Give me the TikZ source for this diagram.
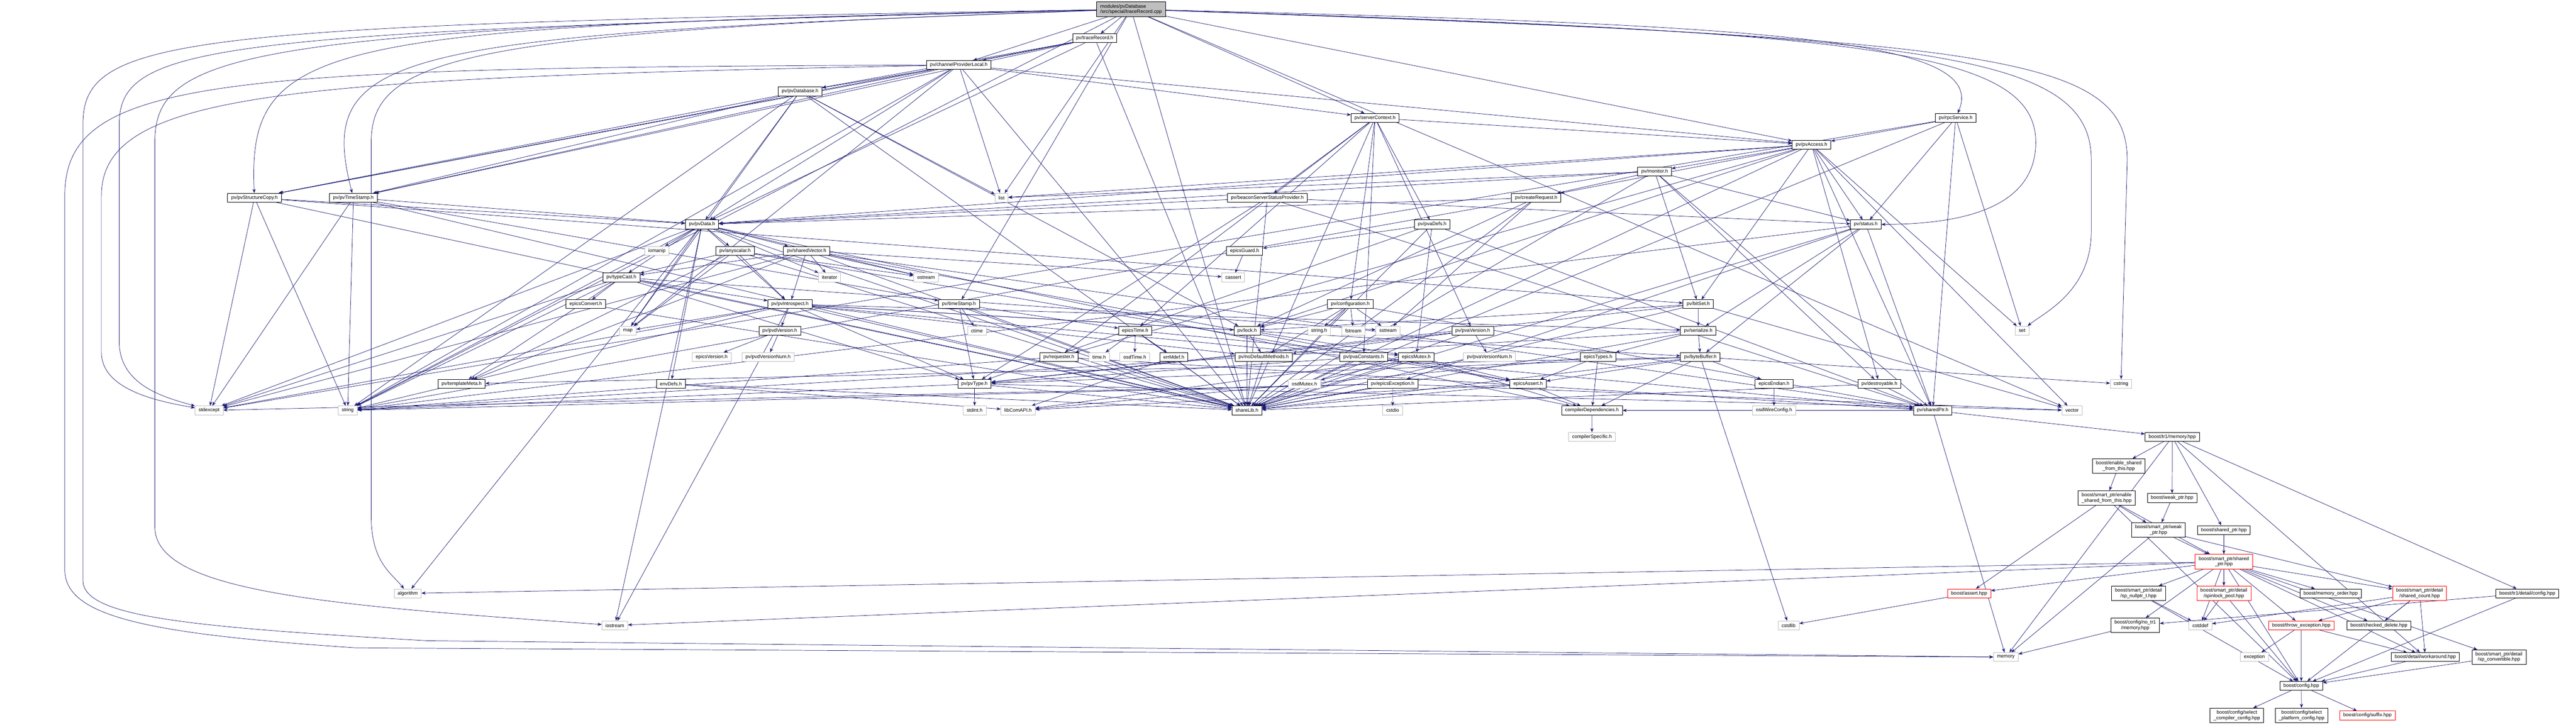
\documentclass[tikz,border=0pt]{standalone}
\usepackage{fontspec}
\setmainfont{Liberation Sans}
\usepackage{tikz}
\usetikzlibrary{positioning,arrows.meta,backgrounds}
\definecolor{edgeblue}{HTML}{191970}
\definecolor{extgray}{HTML}{BFBFBF}
\definecolor{rootgray}{HTML}{BFBFBF}

\begin{document}
\begin{tikzpicture}[on grid=true,
    hdr/.style = {draw, rectangle, fill=white, align=center, inner xsep=0.1cm, inner ysep=0pt,
                  minimum height=0.25cm, line width=0.35pt, font=\fontsize{3.9}{4.3}\selectfont},
    syshdr/.style = {hdr, draw=extgray},
    redhdr/.style = {hdr, draw=red},
    tall/.style = {minimum height=0.41cm},
    srcfile/.style = {hdr, fill=rootgray, align=left, minimum height=0.41cm},
    link/.style = {-{Stealth[length=3.3pt,width=2.5pt]}, draw=edgeblue, line width=0.3pt}]

      \useasboundingbox (0,0) rectangle (72.38,-20.36);

      \node[srcfile] (root) at (31.78,-0.26) {modules/pvDatabase\\/src/special/traceRecord.cpp};
      \node[hdr] (trrec) at (30.76,-1.075) {pv/traceRecord.h};
      \node[hdr] (cpl) at (26.94,-1.825) {pv/channelProviderLocal.h};
      \node[hdr] (pvdb) at (22.48,-2.57) {pv/pvDatabase.h};

      \node[hdr] (srvctx) at (38.635,-3.315) {pv/serverContext.h};
      \node[hdr] (rpcsrv) [right=16.315cm of srvctx] {pv/rpcService.h};
      \node[hdr] (pvacc) at (50.90,-4.065) {pv/pvAccess.h};
      \node[hdr] (monitor) at (46.49,-4.815) {pv/monitor.h};

      \node[hdr] (scopy) at (7.15,-5.555) {pv/pvStructureCopy.h};
      \node[hdr] (pvts) [right=2.78cm of scopy] {pv/pvTimeStamp.h};
      \node[syshdr] (list) [right=18.21cm of pvts] {list};
      \node[hdr] (beacon) [right=7.47cm of list] {pv/beaconServerStatusProvider.h};
      \node[hdr] (creq) [right=7.555cm of beacon] {pv/createRequest.h};

      \node[hdr] (pvdata) at (19.725,-6.305) {pv/pvData.h};
      \node[hdr] (pvadefs) [right=20.515cm of pvdata] {pv/pvaDefs.h};
      \node[hdr] (status) [right=12.185cm of pvadefs] {pv/status.h};

      \node[syshdr] (iomanip) at (18.46,-7.045) {iomanip};
      \node[hdr] (anyscalar) [right=2.195cm of iomanip] {pv/anyscalar.h};
      \node[hdr] (shvec) [right=2.01cm of anyscalar] {pv/sharedVector.h};
      \node[hdr] (eguard) [right=12.305cm of shvec] {epicsGuard.h};

      \node[hdr] (typecast) at (17.46,-7.795) {pv/typeCast.h};
      \node[syshdr] (iterator) [right=5.85cm of typecast] {iterator};
      \node[syshdr] (ostream) [right=2.71cm of iterator] {ostream};
      \node[syshdr] (cassert) [right=8.63cm of ostream] {cassert};

      \node[hdr] (econv) at (16.46,-8.545) {epicsConvert.h};
      \node[hdr] (intro) [right=5.735cm of econv] {pv/pvIntrospect.h};
      \node[hdr] (tstamp) [right=4.75cm of intro] {pv/timeStamp.h};
      \node[hdr] (config) [right=10.995cm of tstamp] {pv/configuration.h};
      \node[hdr] (bitset) [right=9.775cm of config] {pv/bitSet.h};

      \node[syshdr] (map) at (17.64,-9.29) {map};
      \node[hdr] (pvdver) [right=4.27cm of map] {pv/pvdVersion.h};
      \node[syshdr] (ctime) [right=5.54cm of pvdver] {ctime};
      \node[hdr] (etime) [right=4.445cm of ctime] {epicsTime.h};
      \node[hdr] (lock) [right=3.145cm of etime] {pv/lock.h};
      \node[syshdr] (stringh) [right=2.025cm of lock] {string.h};
      \node[syshdr] (fstream) [right=0.96cm of stringh] {fstream};
      \node[syshdr] (sstream) [right=0.975cm of fstream] {sstream};
      \node[hdr] (pvaver) [right=2.38cm of sstream] {pv/pvaVersion.h};
      \node[hdr] (serialize) [right=6.335cm of pvaver] {pv/serialize.h};
      \node[syshdr] (set) [right=9.10cm of serialize] {set};

      \node[syshdr] (eversion) at (19.995,-10.03) {epicsVersion.h};
      \node[syshdr] (pvdvernum) [right=1.585cm of eversion] {pv/pvdVersionNum.h};
      \node[hdr] (requester) [right=8.17cm of pvdvernum] {pv/requester.h};
      \node[syshdr] (timeh) [right=1.135cm of requester] {time.h};
      \node[syshdr] (osdtime) [right=1.00cm of timeh] {osdTime.h};
      \node[hdr] (errmdef) [right=1.095cm of osdtime] {errMdef.h};
      \node[hdr] (nodef) [right=2.525cm of errmdef] {pv/noDefaultMethods.h};
      \node[hdr] (pvaconst) [right=2.81cm of nodef] {pv/pvaConstants.h};
      \node[hdr] (emutex) [right=1.48cm of pvaconst] {epicsMutex.h};
      \node[syshdr] (pvavernum) [right=2.055cm of emutex] {pv/pvaVersionNum.h};
      \node[hdr] (etypes) [right=3.05cm of pvavernum] {epicsTypes.h};
      \node[hdr] (bytebuf) [right=2.875cm of etypes] {pv/byteBuffer.h};

      \node[hdr] (tmeta) at (12.97,-10.785) {pv/templateMeta.h};
      \node[hdr] (envdefs) [right=5.88cm of tmeta] {envDefs.h};
      \node[hdr] (pvtype) [right=8.53cm of envdefs] {pv/pvType.h};
      \node[syshdr] (osdmutex) [right=9.27cm of pvtype] {osdMutex.h};
      \node[hdr] (eexcept) [right=2.48cm of osdmutex] {pv/epicsException.h};
      \node[hdr] (eassert) [right=3.805cm of eexcept] {epicsAssert.h};
      \node[hdr] (eendian) [right=6.91cm of eassert] {epicsEndian.h};
      \node[hdr] (destroy) [right=2.96cm of eendian] {pv/destroyable.h};
      \node[syshdr] (cstring) [right=6.79cm of destroy] {cstring};

      \node[syshdr] (stdexcept) at (5.875,-11.53) {stdexcept};
      \node[syshdr] (string) [right=3.895cm of stdexcept] {string};
      \node[syshdr] (stdint) [right=17.615cm of string] {stdint.h};
      \node[syshdr] (libcom) [right=1.22cm of stdint] {libComAPI.h};
      \node[hdr] (sharelib) [right=6.43cm of libcom] {shareLib.h};
      \node[syshdr] (cstdio) [right=4.095cm of sharelib] {cstdio};
      \node[hdr] (compdep) [right=5.60cm of cstdio] {compilerDependencies.h};
      \node[syshdr] (osdwire) [right=5.115cm of compdep] {osdWireConfig.h};
      \node[hdr] (sharedptr) [right=4.46cm of osdwire] {pv/sharedPtr.h};
      \node[syshdr] (vector) [right=3.915cm of sharedptr] {vector};

      \node[syshdr] (compspec) at (44.73,-12.275) {compilerSpecific.h};
      \node[hdr] (tr1mem) [right=16.305cm of compspec] {boost/tr1/memory.hpp};

      \node[hdr,tall] (esft) at (59.53,-13.095) {boost/enable\_shared\\\_from\_this.hpp};
      \node[hdr,tall] (spesft) at (59.19,-13.99) {boost/smart\_ptr/enable\\\_shared\_from\_this.hpp};
      \node[hdr] (weakptr) [right=1.84cm of spesft] {boost/weak\_ptr.hpp};
      \node[hdr,tall] (spweak) at (60.645,-14.89) {boost/smart\_ptr/weak\\\_ptr.hpp};
      \node[hdr] (sharedptrhpp) [right=1.84cm of spweak] {boost/shared\_ptr.hpp};
      \node[redhdr,tall] (spshared) at (62.485,-15.78) {boost/smart\_ptr/shared\\\_ptr.hpp};

      \node[syshdr] (algorithm) at (11.455,-16.67) {algorithm};
      \node[redhdr] (bassert) [right=43.875cm of algorithm] {boost/assert.hpp};
      \node[hdr,tall] (nullptr) [right=4.755cm of bassert] {boost/smart\_ptr/detail\\/sp\_nullptr\_t.hpp};
      \node[redhdr,tall] (spinlock) [right=2.40cm of nullptr] {boost/smart\_ptr/detail\\/spinlock\_pool.hpp};
      \node[hdr] (memorder) [right=3.00cm of spinlock] {boost/memory\_order.hpp};
      \node[redhdr,tall] (sharedcount) [right=2.50cm of memorder] {boost/smart\_ptr/detail\\/shared\_count.hpp};
      \node[hdr] (tr1config) [right=3.025cm of sharedcount] {boost/tr1/detail/config.hpp};

      \node[syshdr] (iostream) at (17.275,-17.57) {iostream};
      \node[syshdr] (cstdlib) [right=32.98cm of iostream] {cstdlib};
      \node[hdr,tall] (notr1) [right=9.74cm of cstdlib] {boost/config/no\_tr1\\/memory.hpp};
      \node[syshdr] (cstddef) [right=1.83cm of notr1] {cstddef};
      \node[redhdr] (throwexc) [right=2.835cm of cstddef] {boost/throw\_exception.hpp};
      \node[hdr] (checkdel) [right=2.18cm of throwexc] {boost/checked\_delete.hpp};

      \node[syshdr] (memory) at (56.36,-18.46) {memory};
      \node[syshdr] (exception) [right=6.985cm of memory] {exception};
      \node[hdr] (workaround) [right=4.80cm of exception] {boost/detail/workaround.hpp};
      \node[hdr,tall] (spconv) [right=2.07cm of workaround] {boost/smart\_ptr/detail\\/sp\_convertible.hpp};

      \node[hdr] (bconfig) at (64.66,-19.27) {boost/config.hpp};
      \node[hdr,tall] (selcomp) at (62.85,-20.10) {boost/config/select\\\_compiler\_config.hpp};
      \node[hdr,tall] (selplat) [right=1.82cm of selcomp] {boost/config/select\\\_platform\_config.hpp};
      \node[redhdr] (suffix) [right=1.85cm of selplat] {boost/config/suffix.hpp};

      \begin{scope}[on background layer]
      % long arcs of the top-level file, round the outside
      \draw[link] (root) .. controls (9,-0.75) and (6.95,-1.1) .. (scopy);
      \draw[link] (root) .. controls (11,-1.0) and (8.85,-1.4) .. (pvts);
      \draw[link] (root) .. controls (6,-0.9) and (3.35,-1.2) .. (3.35,-3.5) -- (3.35,-9.6)
                  .. controls (3.35,-10.9) and (4.8,-11.2) .. (stdexcept);
      \draw[link] (root) .. controls (5,-0.7) and (2.33,-1.0) .. (2.33,-3.5) -- (2.33,-16.3)
                  .. controls (2.33,-17.3) and (5,-17.6) .. (12,-18.0) -- (memory);
      \draw[link] (root) .. controls (7,-0.8) and (4.35,-1.4) .. (4.35,-4) -- (4.35,-14.8)
                  .. controls (4.35,-16.6) and (9,-17.0) .. (iostream);
      \draw[link] (root) .. controls (13,-0.9) and (10.43,-1.6) .. (10.43,-4) -- (10.43,-14.5)
                  .. controls (10.43,-15.8) and (11.0,-16.1) .. (algorithm);
      \draw[link] (root) .. controls (50,-0.7) and (55.9,-1.1) .. (rpcsrv);
      \draw[link] (root) .. controls (52,-0.9) and (57.2,-1.3) .. (57.2,-4.0)
                  .. controls (57.2,-5.9) and (55,-6.3) .. (status);
      \draw[link] (root) .. controls (54,-1.0) and (58.76,-1.4) .. (58.76,-4.5) -- (58.76,-6.5)
                  .. controls (58.76,-8.2) and (57.4,-8.8) .. (set);
      \draw[link] (root) .. controls (56,-1.1) and (59.77,-1.5) .. (59.77,-4.5) -- (cstring);
      \draw[link] (cpl) .. controls (8,-2.2) and (2.85,-2.6) .. (2.85,-5.5) -- (2.85,-9.9)
                  .. controls (2.85,-11) and (4.6,-11.3) .. (stdexcept);
      \draw[link] (cpl) .. controls (6,-1.9) and (1.82,-2.2) .. (1.82,-5.5) -- (1.82,-16.0)
                  .. controls (1.82,-17.3) and (4,-17.8) .. (10,-18.2) -- (memory);

      \draw[link] (root) -- (trrec);
      \draw[link] (root) -- (cpl);
      \draw[link] (root) -- (srvctx);
      \draw[link] (root) -- (pvacc);
      \draw[link] (root) -- (list);
      \draw[link] (root) -- (tstamp);
      \draw[link] (root) -- (string);
      \draw[link] (root) -- (sharelib);
      \draw[link] (root) -- (vector);

      \draw[link] (trrec) -- (cpl);
      \draw[link] (trrec) -- (pvdb);
      \draw[link] (trrec) -- (scopy);
      \draw[link] (trrec) -- (pvts);
      \draw[link] (trrec) -- (pvdata);
      \draw[link] (trrec) -- (sharelib);

      \draw[link] (cpl) -- (pvdb);
      \draw[link] (cpl) -- (srvctx);
      \draw[link] (cpl) -- (pvacc);
      \draw[link] (cpl) -- (scopy);
      \draw[link] (cpl) -- (pvts);
      \draw[link] (cpl) -- (list);
      \draw[link] (cpl) -- (pvdata);
      \draw[link] (cpl) -- (map);
      \draw[link] (cpl) -- (string);
      \draw[link] (cpl) -- (sharelib);

      \draw[link] (pvdb) -- (pvdata);
      \draw[link] (pvdb) -- (list);
      \draw[link] (pvdb) -- (map);
      \draw[link] (pvdb) -- (scopy);
      \draw[link] (pvdb) -- (pvts);
      \draw[link] (pvdb) -- (lock);
      \draw[link] (pvdb) -- (string);
      \draw[link] (pvdb) -- (sharelib);

      \draw[link] (srvctx) -- (pvacc);
      \draw[link] (srvctx) -- (beacon);
      \draw[link] (srvctx) -- (pvadefs);
      \draw[link] (srvctx) -- (config);
      \draw[link] (srvctx) -- (pvaver);
      \draw[link] (srvctx) -- (pvaconst);
      \draw[link] (srvctx) -- (etime);
      \draw[link] (srvctx) -- (requester);
      \draw[link] (srvctx) -- (sharelib);

      \draw[link] (rpcsrv) -- (pvacc);
      \draw[link] (rpcsrv) -- (status);
      \draw[link] (rpcsrv) -- (set);
      \draw[link] (rpcsrv) -- (sharedptr);
      \draw[link] (rpcsrv) -- (sharelib);
      \draw[link] (rpcsrv) -- (stdexcept);

      \draw[link] (pvacc) -- (monitor);
      \draw[link] (pvacc) -- (creq);
      \draw[link] (pvacc) -- (status);
      \draw[link] (pvacc) -- (bitset);
      \draw[link] (pvacc) -- (pvdata);
      \draw[link] (pvacc) -- (destroy);
      \draw[link] (pvacc) -- (sharedptr);
      \draw[link] (pvacc) -- (set);
      \draw[link] (pvacc) -- (lock);
      \draw[link] (pvacc) -- (requester);
      \draw[link] (pvacc) -- (sharelib);
      \draw[link] (pvacc) -- (list);
      \draw[link] (pvacc) -- (vector);

      \draw[link] (monitor) -- (creq);
      \draw[link] (monitor) -- (status);
      \draw[link] (monitor) -- (bitset);
      \draw[link] (monitor) -- (pvdata);
      \draw[link] (monitor) -- (destroy);
      \draw[link] (monitor) -- (sharedptr);
      \draw[link] (monitor) -- (sharelib);
      \draw[link] (monitor) -- (list);

      \draw[link] (scopy) -- (pvdata);
      \draw[link] (scopy) -- (bitset);
      \draw[link] (scopy) -- (stdexcept);
      \draw[link] (scopy) -- (string);
      \draw[link] (scopy) -- (sharelib);

      \draw[link] (pvts) -- (pvdata);
      \draw[link] (pvts) -- (tstamp);
      \draw[link] (pvts) -- (stdexcept);
      \draw[link] (pvts) -- (string);
      \draw[link] (pvts) -- (sharelib);

      \draw[link] (beacon) -- (pvdata);
      \draw[link] (beacon) -- (status);
      \draw[link] (beacon) -- (sharedptr);
      \draw[link] (beacon) -- (sharelib);
      \draw[link] (beacon) -- (pvtype);

      \draw[link] (creq) -- (pvdata);
      \draw[link] (creq) -- (lock);
      \draw[link] (creq) -- (sstream);
      \draw[link] (creq) -- (string);
      \draw[link] (creq) -- (sharelib);

      \draw[link] (pvdata) -- (iomanip);
      \draw[link] (pvdata) -- (anyscalar);
      \draw[link] (pvdata) -- (shvec);
      \draw[link] (pvdata) -- (typecast);
      \draw[link] (pvdata) -- (map);
      \draw[link] (pvdata) -- (iterator);
      \draw[link] (pvdata) -- (intro);
      \draw[link] (pvdata) -- (ostream);
      \draw[link] (pvdata) -- (envdefs);
      \draw[link] (pvdata) -- (string);
      \draw[link] (pvdata) -- (stdexcept);
      \draw[link] (pvdata) -- (iostream);
      \draw[link] (pvdata) -- (algorithm);
      \draw[link] (pvdata) -- (compdep);
      \draw[link] (pvdata) -- (sharelib);

      \draw[link] (pvadefs) -- (eguard);
      \draw[link] (pvadefs) -- (emutex);
      \draw[link] (pvadefs) -- (pvtype);
      \draw[link] (pvadefs) -- (sharedptr);
      \draw[link] (pvadefs) -- (sharelib);

      \draw[link] (status) -- (serialize);
      \draw[link] (status) -- (bytebuf);
      \draw[link] (status) -- (eexcept);
      \draw[link] (status) -- (string);
      \draw[link] (status) -- (sharedptr);
      \draw[link] (status) -- (sharelib);

      \draw[link] (anyscalar) -- (typecast);
      \draw[link] (anyscalar) -- (intro);
      \draw[link] (anyscalar) -- (ostream);
      \draw[link] (anyscalar) -- (map);
      \draw[link] (anyscalar) -- (eassert);
      \draw[link] (anyscalar) -- (tmeta);
      \draw[link] (anyscalar) -- (sharelib);

      \draw[link] (shvec) -- (typecast);
      \draw[link] (shvec) -- (intro);
      \draw[link] (shvec) -- (iterator);
      \draw[link] (shvec) -- (ostream);
      \draw[link] (shvec) -- (cassert);
      \draw[link] (shvec) -- (eassert);
      \draw[link] (shvec) -- (tmeta);
      \draw[link] (shvec) -- (stdexcept);
      \draw[link] (shvec) -- (sharedptr);
      \draw[link] (shvec) -- (sharelib);

      \draw[link] (eguard) -- (cassert);

      \draw[link] (typecast) -- (econv);
      \draw[link] (typecast) -- (intro);
      \draw[link] (typecast) -- (tmeta);
      \draw[link] (typecast) -- (sstream);
      \draw[link] (typecast) -- (stdexcept);
      \draw[link] (typecast) -- (string);
      \draw[link] (typecast) -- (pvtype);
      \draw[link] (typecast) -- (sharelib);

      \draw[link] (econv) -- (sharelib);

      \draw[link] (intro) -- (pvdver);
      \draw[link] (intro) -- (map);
      \draw[link] (intro) -- (nodef);
      \draw[link] (intro) -- (lock);
      \draw[link] (intro) -- (serialize);
      \draw[link] (intro) -- (bytebuf);
      \draw[link] (intro) -- (pvtype);
      \draw[link] (intro) -- (iostream);
      \draw[link] (intro) -- (string);
      \draw[link] (intro) -- (stdexcept);
      \draw[link] (intro) -- (sharedptr);
      \draw[link] (intro) -- (sharelib);

      \draw[link] (tstamp) -- (ctime);
      \draw[link] (tstamp) -- (etime);
      \draw[link] (tstamp) -- (pvtype);
      \draw[link] (tstamp) -- (sharelib);

      \draw[link] (config) -- (stringh);
      \draw[link] (config) -- (fstream);
      \draw[link] (config) -- (sstream);
      \draw[link] (config) -- (lock);
      \draw[link] (config) -- (nodef);
      \draw[link] (config) -- (sharedptr);
      \draw[link] (config) -- (sharelib);

      \draw[link] (bitset) -- (serialize);
      \draw[link] (bitset) -- (lock);
      \draw[link] (bitset) -- (pvtype);
      \draw[link] (bitset) -- (vector);
      \draw[link] (bitset) -- (sharelib);

      \draw[link] (pvdver) -- (eversion);
      \draw[link] (pvdver) -- (pvdvernum);

      \draw[link] (etime) -- (timeh);
      \draw[link] (etime) -- (osdtime);
      \draw[link] (etime) -- (errmdef);
      \draw[link] (etime) -- (emutex);
      \draw[link] (etime) -- (sharelib);

      \draw[link] (lock) -- (nodef);
      \draw[link] (lock) -- (emutex);
      \draw[link] (lock) -- (sharelib);

      \draw[link] (pvaver) -- (pvavernum);
      \draw[link] (pvaver) -- (nodef);
      \draw[link] (pvaver) -- (pvtype);
      \draw[link] (pvaver) -- (sharelib);

      \draw[link] (serialize) -- (etypes);
      \draw[link] (serialize) -- (bytebuf);
      \draw[link] (serialize) -- (string);
      \draw[link] (serialize) -- (sharelib);

      \draw[link] (requester) -- (string);
      \draw[link] (requester) -- (sharedptr);
      \draw[link] (requester) -- (sharelib);

      \draw[link] (errmdef) -- (libcom);
      \draw[link] (nodef) -- (sharelib);
      \draw[link] (pvaconst) -- (pvtype);
      \draw[link] (pvaconst) -- (sharelib);

      \draw[link] (emutex) -- (osdmutex);
      \draw[link] (emutex) -- (eassert);
      \draw[link] (emutex) -- (compdep);
      \draw[link] (emutex) -- (libcom);
      \draw[link] (emutex) -- (sharelib);

      \draw[link] (etypes) -- (eassert);
      \draw[link] (etypes) -- (compdep);
      \draw[link] (etypes) -- (libcom);

      \draw[link] (bytebuf) -- (eendian);
      \draw[link] (bytebuf) -- (cstring);
      \draw[link] (bytebuf) -- (tmeta);
      \draw[link] (bytebuf) -- (pvtype);
      \draw[link] (bytebuf) -- (eassert);
      \draw[link] (bytebuf) -- (cstdlib);
      \draw[link] (bytebuf) -- (compdep);
      \draw[link] (bytebuf) -- (sharelib);

      \draw[link] (envdefs) -- (libcom);
      \draw[link] (envdefs) -- (sharelib);

      \draw[link] (pvtype) -- (stdint);
      \draw[link] (pvtype) -- (string);
      \draw[link] (pvtype) -- (vector);
      \draw[link] (pvtype) -- (sharelib);

      \draw[link] (eexcept) -- (cstdio);
      \draw[link] (eexcept) -- (string);
      \draw[link] (eexcept) -- (stdexcept);
      \draw[link] (eexcept) -- (vector);
      \draw[link] (eexcept) -- (sharelib);

      \draw[link] (eassert) -- (compdep);
      \draw[link] (eassert) -- (libcom);
      \draw[link] (eassert) -- (sharelib);

      \draw[link] (eendian) -- (osdwire);
      \draw[link] (destroy) -- (sharedptr);
      \draw[link] (destroy) -- (sharelib);

      \draw[link] (sharedptr) -- (memory);
      \draw[link] (sharedptr) -- (tr1mem);
      \draw[link] (sharedptr) -- (compdep);
      \draw[link] (compdep) -- (compspec);

      \draw[link] (tr1mem) -- (esft);
      \draw[link] (tr1mem) -- (weakptr);
      \draw[link] (tr1mem) -- (sharedptrhpp);
      \draw[link] (tr1mem) -- (tr1config);
      \draw[link] (tr1mem) -- (workaround);
      \draw[link] (tr1mem) -- (memory);

      \draw[link] (esft) -- (spesft);
      \draw[link] (spesft) -- (spweak);
      \draw[link] (spesft) -- (spshared);
      \draw[link] (spesft) -- (bassert);
      \draw[link] (spesft) -- (bconfig);
      \draw[link] (weakptr) -- (spweak);
      \draw[link] (spweak) -- (spshared);
      \draw[link] (spweak) -- (sharedcount);
      \draw[link] (spweak) -- (memory);
      \draw[link] (sharedptrhpp) -- (spshared);

      \draw[link] (spshared) -- (nullptr);
      \draw[link] (spshared) -- (spinlock);
      \draw[link] (spshared) -- (cstddef);
      \draw[link] (spshared) -- (notr1);
      \draw[link] (spshared) -- (bconfig);
      \draw[link] (spshared) -- (throwexc);
      \draw[link] (spshared) -- (memorder);
      \draw[link] (spshared) -- (sharedcount);
      \draw[link] (spshared) -- (checkdel);
      \draw[link] (spshared) -- (workaround);
      \draw[link] (spshared) -- (spconv);
      \draw[link] (spshared) -- (bassert);
      \draw[link] (spshared) -- (algorithm);
      \draw[link] (spshared) -- (iostream);

      \draw[link] (nullptr) -- (cstddef);
      \draw[link] (nullptr) -- (bconfig);
      \draw[link] (spinlock) -- (cstddef);
      \draw[link] (spinlock) -- (bconfig);
      \draw[link] (sharedcount) -- (throwexc);
      \draw[link] (sharedcount) -- (checkdel);
      \draw[link] (sharedcount) -- (workaround);
      \draw[link] (sharedcount) -- (cstddef);
      \draw[link] (sharedcount) -- (bconfig);
      \draw[link] (tr1config) -- (notr1);
      \draw[link] (tr1config) -- (bconfig);
      \draw[link] (bassert) -- (cstdlib);
      \draw[link] (notr1) -- (memory);
      \draw[link] (throwexc) -- (exception);
      \draw[link] (throwexc) -- (workaround);
      \draw[link] (throwexc) -- (bconfig);
      \draw[link] (workaround) -- (bconfig);
      \draw[link] (spconv) -- (bconfig);

      \draw[link] (bconfig) -- (selcomp);
      \draw[link] (bconfig) -- (selplat);
      \draw[link] (bconfig) -- (suffix);
      \end{scope}
    \end{tikzpicture}
\end{document}
